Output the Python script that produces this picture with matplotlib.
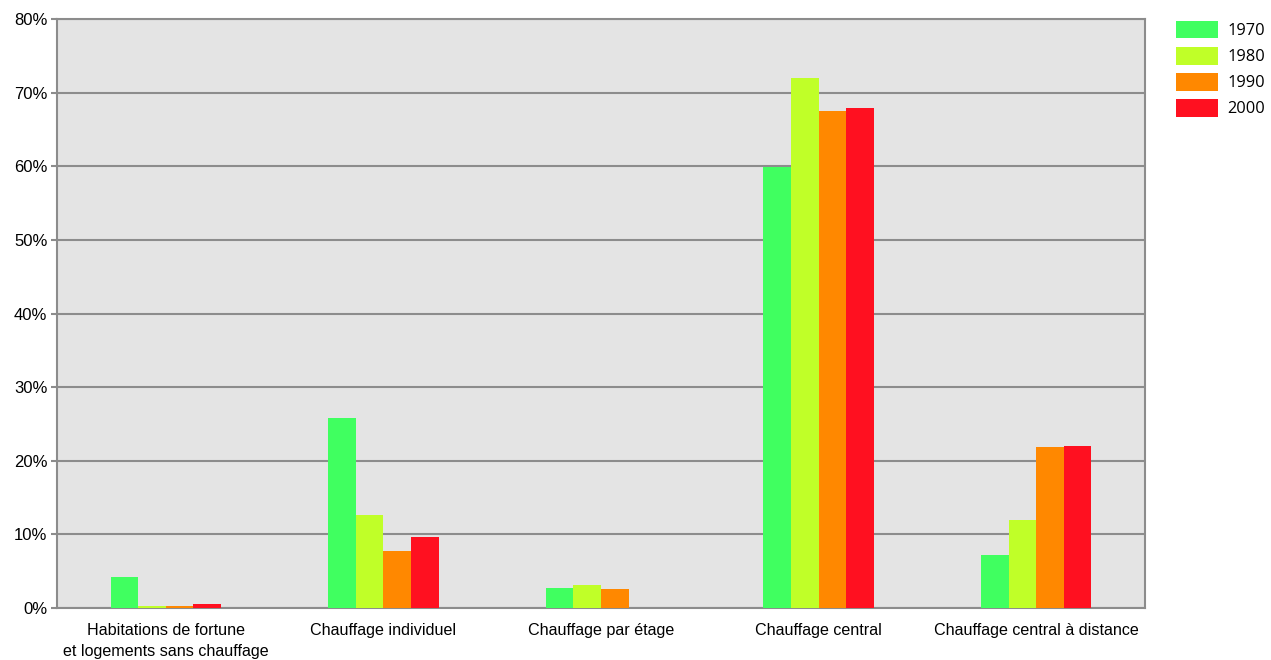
import matplotlib
matplotlib.use("Agg")
import matplotlib.pyplot as plt
import numpy as np

categories = ["Habitations de fortune\net logements sans chauffage", "Chauffage individuel",
              "Chauffage par étage", "Chauffage central", "Chauffage central à distance"]
years = ["1970", "1980", "1990", "2000"]
v1970 = [4.2, 25.8, 2.7, 59.9, 7.2]
v1980 = [0.3, 12.6, 3.1, 72.0, 12.0]
v1990 = [0.3, 7.7, 2.6, 67.5, 21.9]
v2000 = [0.5, 9.6, 0.0, 67.9, 22.0]
series = [v1970, v1980, v1990, v2000]
colors = ["#40FF60", "#C0FF28", "#FF8800", "#FF1020"]

plt.rcParams['font.family'] = ['Liberation Sans', 'DejaVu Sans']
fig = plt.figure(figsize=(12.71, 6.6), dpi=100)
ax = fig.add_axes([57/1271, 1-608/660, (1145-57)/1271, (608-19)/660])
ax.set_facecolor("#E4E4E4")

x = np.arange(len(categories))
w = 0.127
for i, (s, c, y) in enumerate(zip(series, colors, years)):
    ax.bar(x + (i - 1.5) * w, s, width=w, color=c, label=y, zorder=3)

ax.set_xlim(-0.5, len(categories) - 0.5)
ax.set_ylim(0, 80)
ax.set_yticks(np.arange(0, 81, 10))
ax.set_yticklabels([f"{t}%" for t in range(0, 81, 10)], fontsize=12)
ax.set_xticks(x)
ax.set_xticklabels(categories, fontsize=11.6, linespacing=1.5)
ax.tick_params(axis='x', length=0, pad=11)
ax.tick_params(axis='y', length=4, width=1.5, color="#8C8C8C", pad=3)
ax.yaxis.grid(True, color="#8C8C8C", linewidth=1.5, zorder=1)
ax.set_axisbelow(True)
for sp in ax.spines.values():
    sp.set_color("#8C8C8C")
    sp.set_linewidth(1.5)

leg = fig.legend(loc="upper left", bbox_to_anchor=(1169/1271, 1-14/660), frameon=False,
                 prop={'family': ['Open Sans', 'DejaVu Sans'], 'size': 11.8},
                 handlelength=2.6, handleheight=1.3, labelspacing=0.47,
                 handletextpad=0.55, borderaxespad=0)

fig.savefig("out.png", dpi=100)
